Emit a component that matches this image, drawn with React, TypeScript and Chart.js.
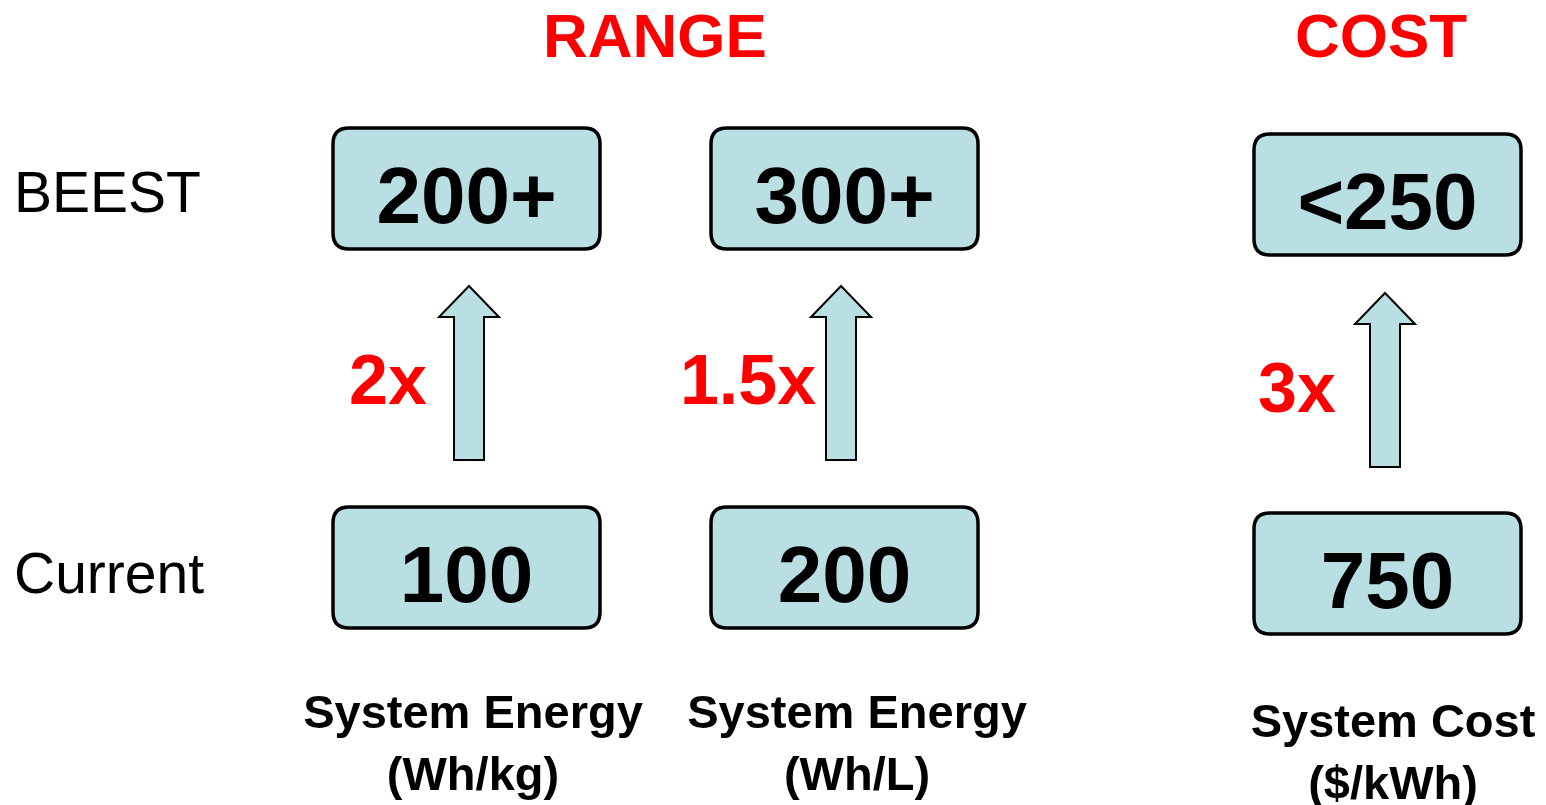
import React, { useEffect, useRef } from "react";
import { Chart, registerables } from "chart.js";

Chart.register(...registerables);

// ---- data ----
const headers = ["RANGE", "COST"];
const rowLabels = ["BEEST", "Current"];
const categoryLine1 = ["System Energy", "System Energy", "System Cost"];
const categoryLine2 = ["(Wh/kg)", "(Wh/L)", "($/kWh)"];
const beestValues = ["200+", "300+", "<250"];
const currentValues = ["100", "200", "750"];
const multipliers = ["2x", "1.5x", "3x"];

// ---- layout (pixel-space coordinates on hidden linear scales) ----
const W = 1546;
const H = 805;
const boxLeft = [333, 711, 1254];
const boxW = 267;
const boxH = 121;
const beestTop = [128, 128, 134];
const currentTop = [507, 507, 513];
const arrowX = [469, 841, 1385];
const arrowTip = [286, 286, 293];
const arrowBottom = [460, 460, 467];
const multX = [388, 748, 1297];
const multBase = [404, 404, 412];
const headerX = [655, 1381];
const headerBase = 57;
const rowLabelX = 14;
const rowLabelBase = [212, 593];
const catX = [473, 857, 1393];
const catBase1 = [728, 728, 737];
const catBase2 = [790, 790, 799];

const FONT = "'Liberation Sans', Arial, sans-serif";
const FILL = "#b9dfe3";
const RED = "#ff0000";

function roundRect(ctx: CanvasRenderingContext2D, x: number, y: number, w: number, h: number, r: number) {
  ctx.beginPath();
  ctx.moveTo(x + r, y);
  ctx.lineTo(x + w - r, y);
  ctx.quadraticCurveTo(x + w, y, x + w, y + r);
  ctx.lineTo(x + w, y + h - r);
  ctx.quadraticCurveTo(x + w, y + h, x + w - r, y + h);
  ctx.lineTo(x + r, y + h);
  ctx.quadraticCurveTo(x, y + h, x, y + h - r);
  ctx.lineTo(x, y + r);
  ctx.quadraticCurveTo(x, y, x + r, y);
  ctx.closePath();
}

const diagramPlugin = {
  id: "diagram",
  afterDraw(chart: any) {
    const ctx: CanvasRenderingContext2D = chart.ctx;
    const xs = chart.scales.x;
    const ys = chart.scales.y;
    const px = (v: number) => xs.getPixelForValue(v);
    const py = (v: number) => ys.getPixelForValue(v);
    ctx.save();

    // headers
    ctx.fillStyle = RED;
    ctx.textAlign = "center";
    ctx.textBaseline = "alphabetic";
    ctx.font = `bold 62px ${FONT}`;
    headers.forEach((h, i) => ctx.fillText(h, px(headerX[i]), py(headerBase)));

    // row labels
    ctx.fillStyle = "#000";
    ctx.textAlign = "left";
    ctx.font = `57px ${FONT}`;
    rowLabels.forEach((t, i) => ctx.fillText(t, px(rowLabelX), py(rowLabelBase[i])));

    // boxes
    const drawBox = (x: number, y: number, label: string) => {
      const x0 = px(x), y0 = py(y), x1 = px(x + boxW), y1 = py(y + boxH);
      roundRect(ctx, x0, y0, x1 - x0, y1 - y0, 16);
      ctx.fillStyle = FILL;
      ctx.fill();
      ctx.lineWidth = 3.5;
      ctx.strokeStyle = "#000";
      ctx.stroke();
      ctx.fillStyle = "#000";
      ctx.textAlign = "center";
      ctx.font = `bold 80px ${FONT}`;
      ctx.fillText(label, (x0 + x1) / 2, py(y + 95));
    };
    beestValues.forEach((v, i) => drawBox(boxLeft[i], beestTop[i], v));
    currentValues.forEach((v, i) => drawBox(boxLeft[i], currentTop[i], v));

    // arrows
    arrowX.forEach((ax, i) => {
      const tip = arrowTip[i];
      const bot = arrowBottom[i];
      const headBase = tip + 31;
      ctx.beginPath();
      ctx.moveTo(px(ax), py(tip));
      ctx.lineTo(px(ax + 30), py(headBase));
      ctx.lineTo(px(ax + 15), py(headBase));
      ctx.lineTo(px(ax + 15), py(bot));
      ctx.lineTo(px(ax - 15), py(bot));
      ctx.lineTo(px(ax - 15), py(headBase));
      ctx.lineTo(px(ax - 30), py(headBase));
      ctx.closePath();
      ctx.fillStyle = FILL;
      ctx.fill();
      ctx.lineWidth = 2;
      ctx.strokeStyle = "#000";
      ctx.stroke();
    });

    // multipliers
    ctx.fillStyle = RED;
    ctx.textAlign = "center";
    ctx.font = `bold 70px ${FONT}`;
    multipliers.forEach((m, i) => ctx.fillText(m, px(multX[i]), py(multBase[i])));

    // category labels
    ctx.fillStyle = "#000";
    ctx.font = `bold 47px ${FONT}`;
    categoryLine1.forEach((t, i) => ctx.fillText(t, px(catX[i]), py(catBase1[i])));
    categoryLine2.forEach((t, i) => ctx.fillText(t, px(catX[i]), py(catBase2[i])));

    ctx.restore();
  },
};

export default function App() {
  const ref = useRef<HTMLCanvasElement | null>(null);
  useEffect(() => {
    document.body.style.margin = "0";
    if (!ref.current) return;
    const chart = new Chart(ref.current, {
      type: "scatter",
      data: { datasets: [{ data: [], pointRadius: 0 }] },
      options: {
        animation: false,
        responsive: true,
        maintainAspectRatio: false,
        layout: { padding: 0 },
        plugins: { legend: { display: false }, tooltip: { enabled: false } },
        scales: {
          x: { type: "linear", min: 0, max: W, display: false },
          y: { type: "linear", min: 0, max: H, reverse: true, display: false },
        },
      },
      plugins: [diagramPlugin],
    });
    return () => chart.destroy();
  }, []);
  return (
    <div style={{ position: "absolute", left: 0, top: 0, width: W, height: H, background: "#fff" }}>
      <canvas ref={ref} />
    </div>
  );
}
